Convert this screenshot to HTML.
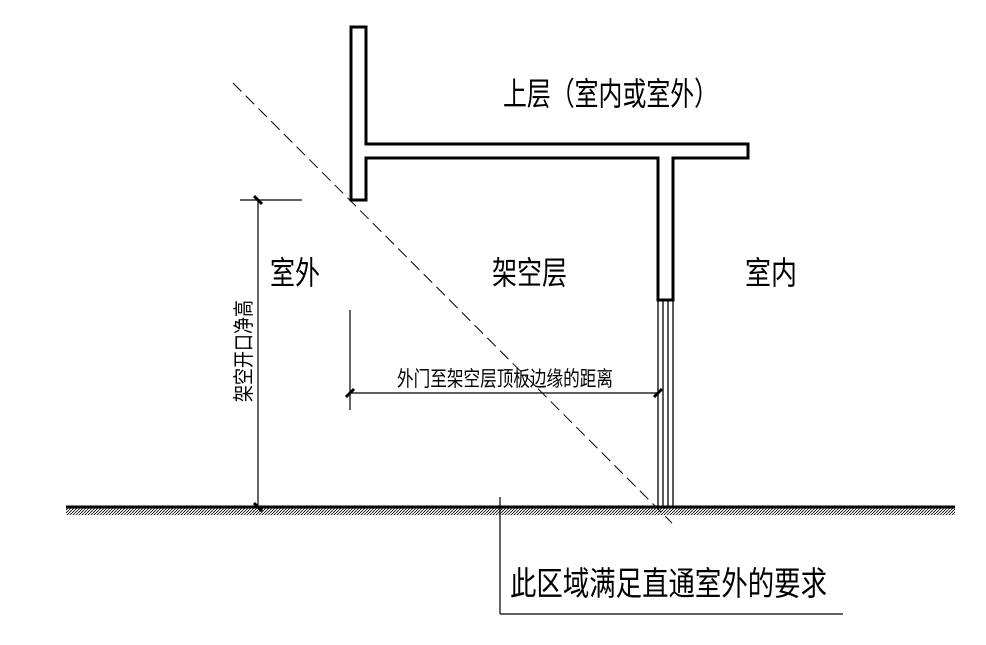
<!DOCTYPE html>
<html><head><meta charset="utf-8"><style>
html,body{margin:0;padding:0;background:#fff;}
svg{display:block;}
text{font-family:"Liberation Sans","Noto Sans CJK SC",sans-serif;fill:#000;}
</style></head><body>
<svg width="986" height="645" viewBox="0 0 986 645" xmlns="http://www.w3.org/2000/svg">
<defs>
<pattern id="h" width="3" height="3" patternUnits="userSpaceOnUse">
<path d="M0,3 L3,0" stroke="#000" stroke-width="0.8"/>
</pattern>
</defs>
<!-- structure outline -->
<path d="M351,27 H366 V144 H748 V158 H673 V300 H658 V158 H366 V200 H351 Z" fill="#fff" stroke="#000" stroke-width="3"/>
<!-- door in column -->
<g stroke="#000" stroke-width="1.3">
<line x1="658" y1="300" x2="658" y2="507"/>
<line x1="673" y1="300" x2="673" y2="507"/>
<line x1="663" y1="300" x2="663" y2="507"/>
<line x1="668" y1="300" x2="668" y2="507"/>
</g>
<!-- ground -->
<rect x="66" y="507" width="889" height="8" fill="url(#h)"/>
<line x1="66" y1="507" x2="955" y2="507" stroke="#000" stroke-width="3"/>
<!-- dashed diagonal -->
<line x1="233" y1="83" x2="672" y2="523" stroke="#000" stroke-width="1" stroke-dasharray="12,6"/>
<!-- height dimension -->
<g stroke="#000" stroke-width="1.2">
<line x1="240" y1="200" x2="302" y2="200"/>
<line x1="258" y1="200" x2="258" y2="507"/>
<line x1="254" y1="196" x2="262" y2="204" stroke-width="3"/>
<line x1="254" y1="503" x2="262" y2="511" stroke-width="3"/>
<!-- door distance -->
<line x1="350" y1="310" x2="350" y2="410"/>
<line x1="350" y1="393" x2="658" y2="393"/>
<line x1="346" y1="397" x2="354" y2="389" stroke-width="3"/>
<line x1="654" y1="397" x2="662" y2="389" stroke-width="3"/>
<!-- leader -->
<line x1="500" y1="497" x2="500" y2="614"/>
<line x1="500" y1="614" x2="843" y2="614"/>
</g>
<!-- labels -->
<text x="503" y="105" font-size="32" textLength="215" lengthAdjust="spacingAndGlyphs">上层（室内或室外）</text>
<text x="270" y="284" font-size="32" textLength="50" lengthAdjust="spacingAndGlyphs">室外</text>
<text x="492" y="284" font-size="32" textLength="75" lengthAdjust="spacingAndGlyphs">架空层</text>
<text x="745" y="284" font-size="32" textLength="52" lengthAdjust="spacingAndGlyphs">室内</text>
<text x="397" y="386" font-size="21" textLength="216" lengthAdjust="spacingAndGlyphs">外门至架空层顶板边缘的距离</text>
<text transform="translate(251,402) rotate(-90)" font-size="21" textLength="102" lengthAdjust="spacingAndGlyphs">架空开口净高</text>
<text x="510" y="595" font-size="33" textLength="317" lengthAdjust="spacingAndGlyphs">此区域满足直通室外的要求</text>
</svg>
</body></html>
